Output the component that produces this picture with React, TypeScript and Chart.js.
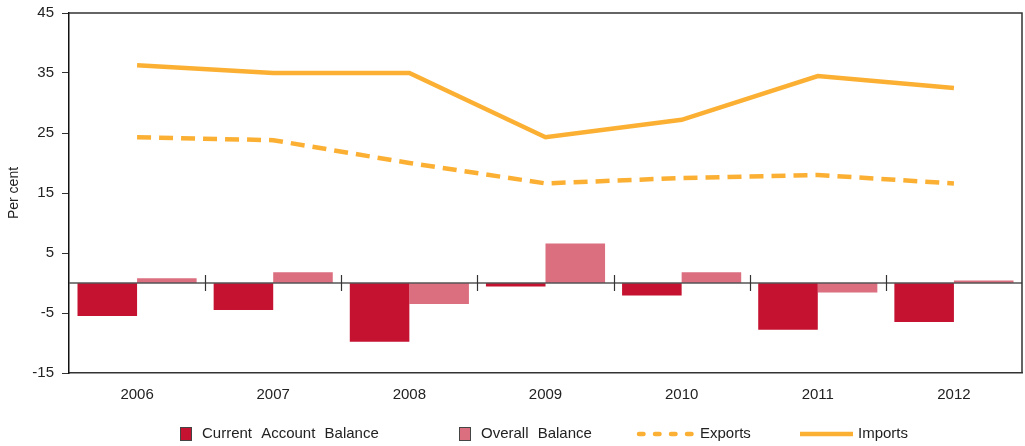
import React, { useEffect, useRef } from "react";
import { Chart, registerables } from "chart.js";

Chart.register(...registerables);

const categories = ["2006", "2007", "2008", "2009", "2010", "2011", "2012"];
const currentAccount = [-5.5, -4.5, -9.8, -0.6, -2.1, -7.8, -6.5];
const overallBalance = [0.8, 1.8, -3.5, 6.6, 1.8, -1.6, 0.4];
const exportsPct = [24.3, 23.8, 20.0, 16.6, 17.5, 18.0, 16.6];
const importsPct = [36.3, 35.0, 35.0, 24.3, 27.2, 34.5, 32.5];
const yTicks = [-15, -5, 5, 15, 25, 35, 45];

const RED = "#C41230";
const PINK = "#DB6E7F";
const ORANGE = "#FBB034";
const FONT = "'Liberation Sans', Arial, sans-serif";

const framePlugin = {
  id: "frame",
  afterDatasetsDraw(chart: any) {
    const { ctx, chartArea, scales } = chart;
    const y0 = scales.y.getPixelForValue(0);
    ctx.save();
    ctx.strokeStyle = "#555";
    ctx.lineWidth = 1.5;
    ctx.beginPath();
    ctx.moveTo(chartArea.left, y0);
    ctx.lineTo(chartArea.right, y0);
    ctx.stroke();
    ctx.strokeStyle = "#333";
    ctx.lineWidth = 1.2;
    for (let i = 0; i < categories.length - 1; i++) {
      const a = scales.x.getPixelForTick(i);
      const b = scales.x.getPixelForTick(i + 1);
      const x = Math.round((a + b) / 2) + 0.5;
      ctx.beginPath();
      ctx.moveTo(x, y0 - 8);
      ctx.lineTo(x, y0 + 8);
      ctx.stroke();
    }
    ctx.strokeStyle = "#333";
    ctx.lineWidth = 1.5;
    ctx.beginPath();
    ctx.moveTo(chartArea.left, chartArea.top);
    ctx.lineTo(chartArea.right, chartArea.top);
    ctx.lineTo(chartArea.right, chartArea.bottom);
    ctx.stroke();
    ctx.restore();
  },
};

const legendPlugin = {
  id: "customLegend",
  afterDraw(chart: any) {
    const { ctx, width } = chart;
    const s = width / 1025;
    const cy = 434;
    ctx.save();
    ctx.font = `15px ${FONT}`;
    ctx.textBaseline = "middle";
    (ctx as any).wordSpacing = "5px";
    const box = (x: number, color: string) => {
      ctx.fillStyle = color;
      ctx.fillRect(x, cy - 7, 12, 14);
      ctx.strokeStyle = "#444";
      ctx.lineWidth = 1;
      ctx.strokeRect(x + 0.5, cy - 6.5, 11, 13);
    };
    box(180 * s, RED);
    ctx.fillStyle = "#222";
    ctx.fillText("Current Account Balance", 202 * s, cy);
    box(459 * s, PINK);
    ctx.fillStyle = "#222";
    ctx.fillText("Overall Balance", 481 * s, cy);
    ctx.strokeStyle = ORANGE;
    ctx.lineWidth = 4.5;
    ctx.lineCap = "round";
    ctx.setLineDash([4.5, 11.5]);
    ctx.beginPath();
    ctx.moveTo(639 * s, cy);
    ctx.lineTo(696 * s, cy);
    ctx.stroke();
    ctx.setLineDash([]);
    ctx.lineCap = "butt";
    ctx.beginPath();
    ctx.moveTo(800 * s, cy);
    ctx.lineTo(853 * s, cy);
    ctx.stroke();
    ctx.fillStyle = "#222";
    ctx.fillText("Exports", 700 * s, cy);
    ctx.fillText("Imports", 858 * s, cy);
    ctx.restore();
  },
};

export default function App() {
  const ref = useRef<HTMLCanvasElement>(null);
  useEffect(() => {
    if (!ref.current) return;
    const chart = new Chart(ref.current, {
      type: "bar",
      data: {
        labels: categories,
        datasets: [
          {
            type: "line",
            label: "Imports",
            data: importsPct,
            borderColor: ORANGE,
            backgroundColor: ORANGE,
            borderWidth: 4.5,
            pointRadius: 0,
            tension: 0,
            order: 0,
          } as any,
          {
            type: "line",
            label: "Exports",
            data: exportsPct,
            borderColor: ORANGE,
            backgroundColor: ORANGE,
            borderWidth: 4.5,
            borderDash: [14, 8],
            pointRadius: 0,
            tension: 0,
            order: 0,
          } as any,
          {
            label: "Current Account Balance",
            data: currentAccount,
            backgroundColor: RED,
            order: 1,
          },
          {
            label: "Overall Balance",
            data: overallBalance,
            backgroundColor: PINK,
            order: 1,
          },
        ],
      },
      options: {
        animation: false,
        responsive: true,
        maintainAspectRatio: false,
        datasets: { bar: { barPercentage: 1, categoryPercentage: 0.875 } } as any,
        layout: { padding: { top: 13, right: 3, left: 0, bottom: 0 } },
        plugins: { legend: { display: false }, tooltip: { enabled: false } },
        scales: {
          x: {
            grid: { display: false, drawTicks: false },
            border: { display: true, color: "#333", width: 1.5 },
            ticks: { color: "#222", font: { family: FONT, size: 15 }, padding: 13 },
            afterFit: (s: any) => {
              s.height = 73;
              s.paddingLeft = 0;
              s.paddingRight = 0;
            },
          },
          y: {
            min: -15,
            max: 45,
            afterBuildTicks: (s: any) => {
              s.ticks = yTicks.map((v) => ({ value: v }));
            },
            grid: {
              drawOnChartArea: false,
              drawTicks: true,
              tickLength: 7,
              tickColor: "#333",
            },
            border: { display: true, color: "#111", width: 1.5 },
            ticks: { color: "#222", font: { family: FONT, size: 15 }, padding: 8 },
            title: {
              display: true,
              text: "Per cent",
              color: "#222",
              font: { family: FONT, size: 14 },
              padding: { top: 6, bottom: 0 },
            },
            afterFit: (s: any) => {
              s.width = 69;
              s.paddingTop = 0;
              s.paddingBottom = 0;
            },
          },
        },
      },
      plugins: [framePlugin, legendPlugin],
    });
    return () => chart.destroy();
  }, []);
  return (
    <div style={{ position: "fixed", left: 0, top: 0, width: 1025, height: 446, background: "#fff" }}>
      <canvas ref={ref} />
    </div>
  );
}
